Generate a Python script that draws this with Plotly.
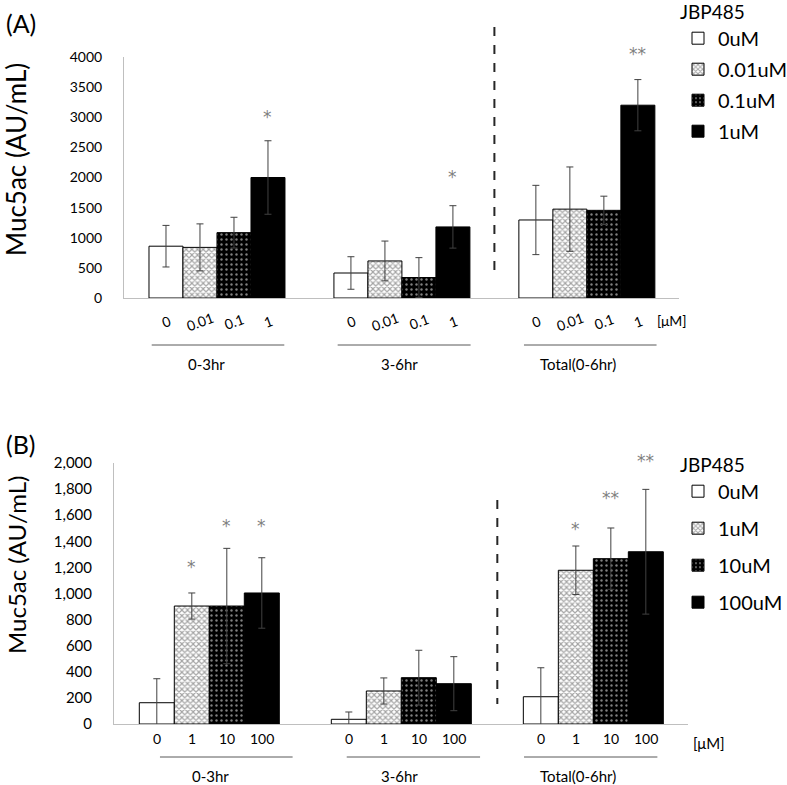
import plotly.graph_objects as go

W, H = 787, 785
FONT = "Lato, 'Open Sans', sans-serif"

# ---------------- data: panel A ----------------
groups_A = ["0-3hr", "3-6hr", "Total(0-6hr)"]
legend_A = ["0uM", "0.01uM", "0.1uM", "1uM"]
ticks_A = ["0", "0.01", "0.1", "1"]
mean_A_0 = [860, 415, 1295]
mean_A_001 = [840, 615, 1475]
mean_A_01 = [1085, 340, 1455]
mean_A_1 = [2000, 1180, 3200]
err_A_0 = [345, 270, 575]
err_A_001 = [390, 330, 700]
err_A_01 = [255, 330, 235]
err_A_1 = [610, 352, 425]
star_A_group = [0, 1, 2]
star_A_conc = [3, 3, 3]
star_A_text = ["*", "*", "**"]
star_A_y = [3070, 2075, 4115]

# ---------------- data: panel B ----------------
groups_B = ["0-3hr", "3-6hr", "Total(0-6hr)"]
legend_B = ["0uM", "1uM", "10uM", "100uM"]
ticks_B = ["0", "1", "10", "100"]
mean_B_0 = [163, 36, 209]
mean_B_1 = [904, 253, 1178]
mean_B_10 = [904, 355, 1267]
mean_B_100 = [1004, 309, 1320]
err_B_0 = [184, 56, 222]
err_B_1 = [100, 100, 186]
err_B_10 = [442, 210, 235]
err_B_100 = [270, 207, 478]
star_B_group = [0, 0, 0, 2, 2, 2]
star_B_conc = [1, 2, 3, 1, 2, 3]
star_B_text = ["*", "*", "*", "*", "**", "**"]
star_B_y = [1236, 1548, 1548, 1525, 1760, 2044]

YMAX_A = 4000
YMAX_B = 2000

# ---------------- layout helpers ----------------
def px(x):
    return x / W

def py(y):
    return 1 - y / H

GAP_A = 5.44
GAP_B = 5.486
# per-group offsets (in bar units) of the under-axis lines and group labels
LINE_A = [(-0.42, 3.48), (-0.39, 3.52), (-0.35, 3.55)]
LABEL_A = [1.2, 1.44, 1.24]
LINE_B = [(0.09, 3.88), (-0.06, 3.75), (-0.48, 3.33)]
LABEL_B = [1.52, 1.46, 1.06]

styles = [
    dict(color="white", pattern=None),
    dict(color="white", pattern=dict(shape="x", fgcolor="#4a4a4a", bgcolor="white",
                                     size=4, solidity=0.5, fillmode="overlay")),
    dict(color="black", pattern=dict(shape=".", fgcolor="white", bgcolor="black",
                                     size=5, solidity=0.18, fillmode="overlay")),
    dict(color="black", pattern=None),
]

fig = go.Figure()

def add_panel(means, errs, names, gap, xa, ya, leg, tag):
    for i, (m, e, n) in enumerate(zip(means, errs, names)):
        st = styles[i]
        marker = dict(color=st["color"], line=dict(color="black", width=1))
        if st["pattern"]:
            marker["pattern"] = st["pattern"]
        fig.add_trace(go.Bar(
            x=[g * gap + i for g in range(len(m))], y=m, width=1,
            name=n, marker=marker, xaxis=xa, yaxis=ya, legend=leg,
            legendgroup=f"{tag}{i}",
            error_y=dict(type="data", array=e, color="#404040", thickness=1, width=3.5),
        ))

add_panel([mean_A_0, mean_A_001, mean_A_01, mean_A_1],
          [err_A_0, err_A_001, err_A_01, err_A_1], legend_A, GAP_A, "x", "y", "legend", "A")
add_panel([mean_B_0, mean_B_1, mean_B_10, mean_B_100],
          [err_B_0, err_B_1, err_B_10, err_B_100], legend_B, GAP_B, "x2", "y2", "legend2", "B")

ann = []
shapes = []

def txt(x, y, t, size, xref="paper", yref="paper", xanchor="center", yanchor="middle",
        angle=0, color="black", yshift=0, family=FONT):
    ann.append(dict(x=x, y=y, xref=xref, yref=yref, text=t, showarrow=False,
                    xanchor=xanchor, yanchor=yanchor, textangle=angle, yshift=yshift,
                    font=dict(size=size, color=color, family=family)))

STAR_FONT = "'DejaVu Sans', sans-serif"
# significance stars
for g, c, t, y in zip(star_A_group, star_A_conc, star_A_text, star_A_y):
    txt(g * GAP_A + c, y / YMAX_A, t, 17, xref="x", yref="y domain", color="#7f7f7f",
        yshift=-4, family=STAR_FONT)
for g, c, t, y in zip(star_B_group, star_B_conc, star_B_text, star_B_y):
    txt(g * GAP_B + c, y / YMAX_B, t, 17, xref="x2", yref="y2 domain", color="#7f7f7f",
        yshift=-4, family=STAR_FONT)

# category labels and group lines
for g, name in enumerate(groups_A):
    for i, t in enumerate(ticks_A):
        txt(g * GAP_A + i, py(321), t, 14, xref="x", angle=-20)
    x0, x1 = LINE_A[g]
    shapes.append(dict(type="line", xref="x", yref="paper", x0=g * GAP_A + x0,
                       x1=g * GAP_A + x1, y0=py(345), y1=py(345),
                       line=dict(color="#595959", width=1)))
    txt(g * GAP_A + LABEL_A[g], py(364), name, 15, xref="x")

for g, name in enumerate(groups_B):
    for i, t in enumerate(ticks_B):
        txt(g * GAP_B + i, py(738), t, 14, xref="x2")
    x0, x1 = LINE_B[g]
    shapes.append(dict(type="line", xref="x2", yref="paper", x0=g * GAP_B + x0,
                       x1=g * GAP_B + x1, y0=py(757), y1=py(757),
                       line=dict(color="#595959", width=1)))
    txt(g * GAP_B + LABEL_B[g], py(776), name, 15, xref="x2")

# unit labels
txt(px(672), py(320), "[μM]", 14)
txt(px(709), py(743), "[μM]", 15)

# separators between time windows and total
sepA = ((len(groups_A) - 2) * GAP_A + 3.5 + (len(groups_A) - 1) * GAP_A - 0.5) / 2
sepB = ((len(groups_B) - 2) * GAP_B + 3.5 + (len(groups_B) - 1) * GAP_B - 0.5) / 2
shapes.append(dict(type="line", xref="x", yref="paper", x0=sepA, x1=sepA,
                   y0=py(27), y1=py(276), line=dict(color="#262626", width=2, dash="dash")))
shapes.append(dict(type="line", xref="x2", yref="paper", x0=sepB, x1=sepB,
                   y0=py(500), y1=py(704), line=dict(color="#262626", width=2, dash="dash")))

# panel labels and y titles
txt(px(4), py(23), "(A)", 25, xanchor="left")
txt(px(4), py(444), "(B)", 25, xanchor="left")
txt(px(16), py(160), "Muc5ac (AU/mL)", 26, angle=-90)
txt(px(16), py(565), "Muc5ac (AU/mL)", 24, angle=-90)

axis_common = dict(showgrid=False, zeroline=False, showline=True, linecolor="#bfbfbf",
                   linewidth=1, fixedrange=True, automargin=False)

fig.update_layout(
    width=W, height=H, margin=dict(l=0, r=0, t=0, b=0, autoexpand=False),
    paper_bgcolor="white", plot_bgcolor="white",
    font=dict(family=FONT, color="black"),
    barmode="overlay",
    xaxis=dict(domain=[px(124), px(679)], range=[-1.235, 15.09], showticklabels=False,
               ticks="", anchor="y", **axis_common),
    yaxis=dict(domain=[py(298), py(57)], range=[0, YMAX_A], tickvals=list(range(0, YMAX_A + 1, 500)),
               ticks="", ticklabelstandoff=18, tickfont=dict(size=14), anchor="x",
               **axis_common),
    xaxis2=dict(domain=[px(114), px(688)], range=[-1.223, 15.177], showticklabels=False,
                ticks="", anchor="y2", **axis_common),
    yaxis2=dict(domain=[py(724), py(463)], range=[0, YMAX_B], tickvals=list(range(0, YMAX_B + 1, 200)),
                tickformat=",", ticks="", ticklabelstandoff=18, tickfont=dict(size=15),
                anchor="x2", **axis_common),
    legend=dict(x=px(678), y=py(-6), xanchor="left", yanchor="top",
                title=dict(text="JBP485", font=dict(size=19)), traceorder="grouped",
                tracegroupgap=2, font=dict(size=20), bgcolor="rgba(0,0,0,0)",
                itemclick=False, itemdoubleclick=False),
    legend2=dict(x=px(678), y=py(447), xanchor="left", yanchor="top",
                 title=dict(text="JBP485", font=dict(size=19)), traceorder="grouped",
                 tracegroupgap=8, font=dict(size=20), bgcolor="rgba(0,0,0,0)",
                 itemclick=False, itemdoubleclick=False),
    annotations=ann, shapes=shapes,
)

fig.write_html("out.html", config={"displayModeBar": False},
               post_script="document.body.style.margin='0';")
